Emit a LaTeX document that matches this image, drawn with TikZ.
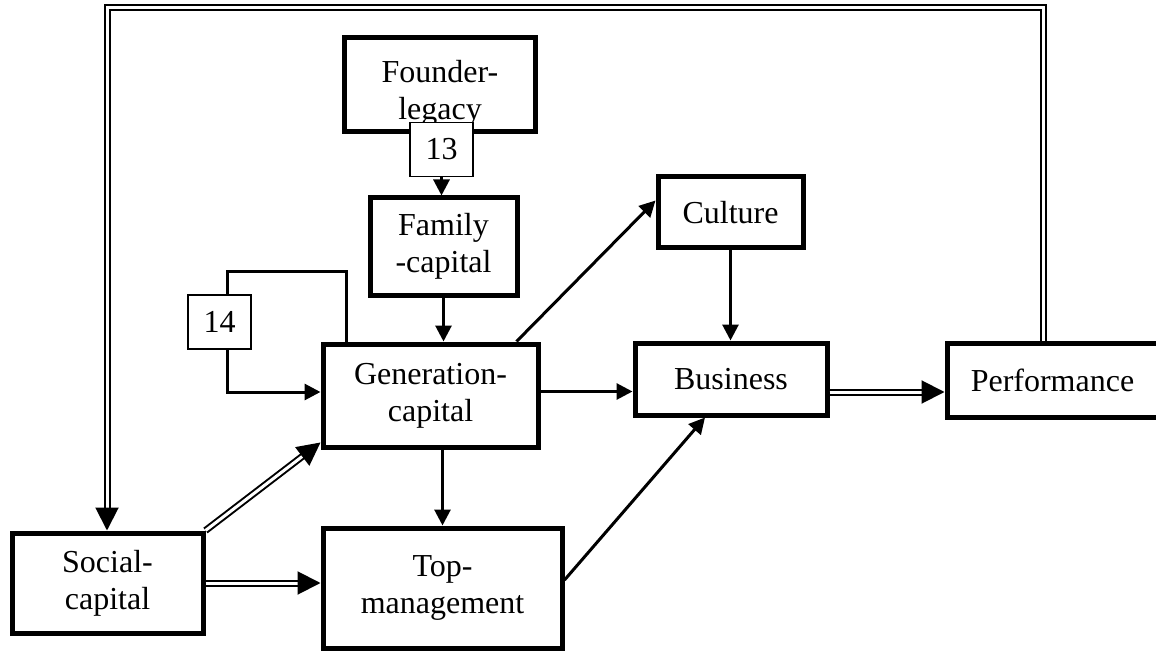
\documentclass[tikz,border=0pt]{standalone}
\usepackage{fontspec}
\setmainfont{Liberation Serif}
\usetikzlibrary{arrows.meta}
\begin{document}
\begin{tikzpicture}[
		x=0.5pt, y=-0.5pt,
		font=\fontsize{16}{18.5}\selectfont,
		block/.style={draw, rectangle, line width=2.5pt, align=center, inner sep=0pt},
		numbox/.style={draw, rectangle, fill=white, line width=0.75pt, inner sep=0pt,
				minimum width=31.5pt, minimum height=27pt},
		flow/.style={line width=1.5pt, -{Triangle[length=8pt,width=8pt]}},
		dflow/.style={double, line width=1pt, double distance=1.5pt,
				-{Triangle[length=11.5pt,width=11.5pt]}}
	]
	\useasboundingbox (0,0) rectangle (1156,652);

	\node[block, minimum width=95.5pt, minimum height=47pt] (founder) at (439.5,85) {};
	\node[align=center] (legacy) at (440,93) {Founder-\\legacy};
	\node[numbox] (b13) at (441.5,149.5) {13};
	\node[block, minimum width=73.5pt, minimum height=48.5pt] (fam) at (443.5,246.5) {Family\\-capital};
	\node[numbox] (b14) at (219.5,322) {14};
	\node[block, minimum width=107.5pt, minimum height=51.5pt] (gen) at (430.5,395.5) {Generation-\\capital};
	\node[block, minimum width=72.5pt, minimum height=35.5pt] (cult) at (730.5,212.5) {Culture};
	\node[block, minimum width=96pt, minimum height=36pt] (biz) at (731,379) {Business};
	\node[block, minimum width=105.5pt, minimum height=37pt] (perf) at (1052.5,380) {Performance};
	\node[block, minimum width=95.5pt, minimum height=50pt] (soc) at (107.5,583) {Social-\\capital};
	\node[block, minimum width=119.5pt, minimum height=60pt] (top) at (442.5,588) {Top-\\management};

	\coordinate (loopR) at (346,272);
	\coordinate (loopL) at (227,272);
	\coordinate (loopB) at (227,392);
	\coordinate (fbR) at (1043,8);
	\coordinate (fbL) at (107,8);

	\draw[flow] (b13.south) -- (b13.south |- fam.north);
	\draw[flow] (fam.south) -- (fam.south |- gen.north);
	\draw[line width=1.5pt] (loopR |- gen.north) -- (loopR) -- (loopL) -- (loopL |- b14.north);
	\draw[flow] (loopL |- b14.south) -- (loopB) -- (loopB -| gen.west);
	\draw[flow] ([xshift=43pt]gen.north) -- ([yshift=6pt]cult.west);
	\draw[flow] ([yshift=2pt]gen.east) -- ([yshift=2pt]gen.east -| biz.west);
	\draw[flow] (cult.south) -- (cult.south |- biz.north);
	\draw[flow] (top.north |- gen.south) -- (top.north);
	\draw[flow] ([yshift=4pt]top.east) -- ([xshift=-13pt]biz.south);
	\draw[dflow] (soc.north east) -- ([yshift=3.5pt]gen.south west);
	\draw[dflow] (soc.east) -- (soc.east -| top.west);
	\draw[dflow] ([yshift=-6.5pt]biz.east) -- ([yshift=-6.5pt]biz.east -| perf.west);
	\draw[dflow] (fbR |- perf.north) -- (fbR) -- (fbL) -- (fbL |- soc.north);
\end{tikzpicture}
\end{document}
